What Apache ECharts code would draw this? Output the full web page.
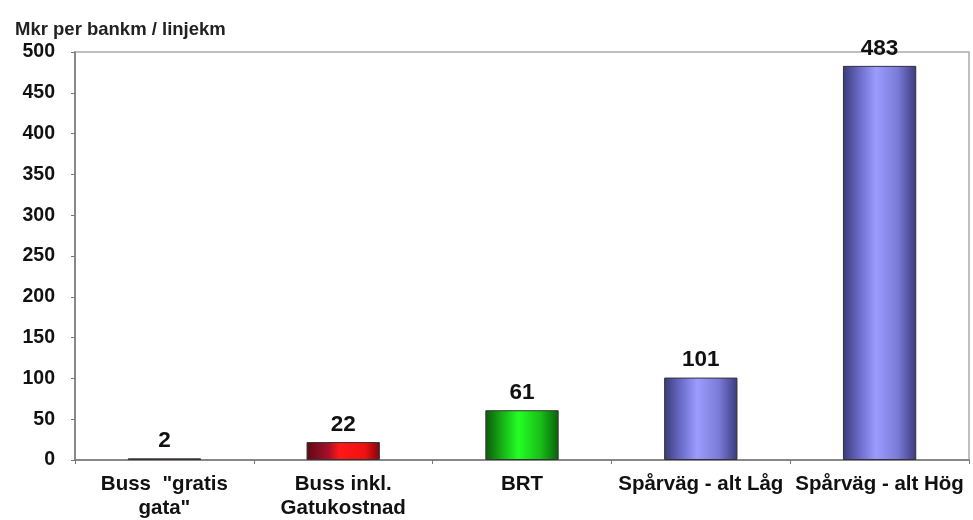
<!DOCTYPE html>
<html><head><meta charset="utf-8">
<script src="https://cdn.jsdelivr.net/npm/echarts@6/dist/echarts.min.js"></script>
<style>html,body{margin:0;padding:0;background:#fff}#c{width:973px;height:520px}</style>
</head><body><div id="c"></div>
<script>
const categories = ['Buss  "gratis\ngata"', 'Buss inkl.\nGatukostnad', 'BRT', 'Spårväg - alt Låg', 'Spårväg - alt Hög'];
const values = [2, 22, 61, 101, 483];
const yTicks = [0, 50, 100, 150, 200, 250, 300, 350, 400, 450, 500];
const yTitle = 'Mkr per bankm / linjekm';

const palettes = [
  [['#5e0814',0],['#a80f28',0.3],['#ff1818',0.45],['#f01010',0.8],['#7a0810',1]],
  [['#5e0814',0],['#a80f28',0.3],['#ff1818',0.45],['#f01010',0.8],['#7a0810',1]],
  [['#0a5a0a',0],['#18b818',0.25],['#22ff22',0.45],['#18c018',0.75],['#0a600a',1]],
  [['#3a3a78',0],['#7070d0',0.25],['#9c9cff',0.45],['#7a7ad8',0.75],['#3a3a7c',1]],
  [['#3a3a78',0],['#7070d0',0.25],['#9c9cff',0.45],['#7a7ad8',0.75],['#3a3a7c',1]]
];
const grad = p => new echarts.graphic.LinearGradient(0,0,1,0, p.map(s=>({offset:s[1],color:s[0]})));
const FONT = 'Liberation Sans';

const chart = echarts.init(document.getElementById('c'), null, {renderer:'canvas'});
chart.setOption({
  animation:false,
  backgroundColor:'#fff',
  title:{text:yTitle,left:10,top:15,textStyle:{fontFamily:FONT,fontWeight:'bold',fontSize:18.5,color:'#222'}},
  grid:{left:75,right:4,top:52,bottom:60,show:true,borderColor:'#aaa',borderWidth:1.5,backgroundColor:'transparent'},
  xAxis:{type:'category',data:categories,
    axisLine:{lineStyle:{color:'#777',width:1.5}},
    axisTick:{show:true,alignWithLabel:false,length:4,lineStyle:{color:'#777'}},
    axisLabel:{interval:0,color:'#111',fontFamily:FONT,fontWeight:'bold',fontSize:20.5,lineHeight:24,margin:12}},
  yAxis:{type:'value',min:yTicks[0],max:yTicks[yTicks.length-1],interval:50,
    axisLine:{show:true,lineStyle:{color:'#777',width:1.5}},
    axisTick:{show:true,length:4,lineStyle:{color:'#777'}},
    splitLine:{show:false},
    axisLabel:{color:'#111',fontFamily:FONT,fontWeight:'bold',fontSize:19.5,margin:20}},
  series:[{type:'bar',barWidth:'41%',
    data:values.map((v,i)=>({value:v,itemStyle:{color:grad(palettes[i]),borderColor:'#333',borderWidth:1}})),
    label:{show:true,position:'top',distance:6,color:'#111',fontFamily:FONT,fontWeight:'bold',fontSize:22.5}}]
});
</script></body></html>
